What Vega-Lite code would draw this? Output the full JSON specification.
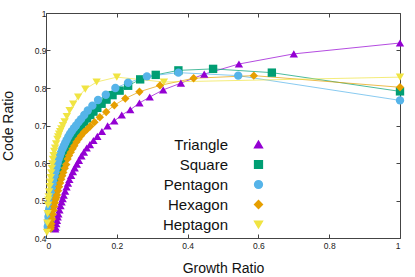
{
  "$schema": "https://vega.github.io/schema/vega-lite/v6.json",
  "width": 354,
  "height": 225,
  "autosize": {"type": "none"},
  "padding": {"left": 46, "top": 13, "right": 15, "bottom": 39},
  "config": {
    "view": {"stroke": null},
    "font": "Liberation Sans",
    "axis": {
      "grid": false,
      "domainColor": "#444",
      "tickColor": "#444",
      "tickSize": -4,
      "labelFontSize": 8.5,
      "labelColor": "#222",
      "titleFontSize": 14,
      "titleFontWeight": "normal",
      "titleColor": "#111",
      "zindex": 1
    },
    "legend": {
      "orient": "none", "legendX": 205, "legendY": 124, "title": null,
      "labelFontSize": 15, "labelColor": "#111", "labelAlign": "right", "labelOffset": -38,
      "symbolSize": 60, "symbolOpacity": 1, "rowPadding": 4, "padding": 0
    }
  },
  "data": {
    "values": [
      {"polygon": "Triangle", "growth": 1, "code": 0.92},
      {"polygon": "Triangle", "growth": 0.7, "code": 0.891},
      {"polygon": "Triangle", "growth": 0.545, "code": 0.864},
      {"polygon": "Triangle", "growth": 0.447, "code": 0.837},
      {"polygon": "Triangle", "growth": 0.381, "code": 0.813},
      {"polygon": "Triangle", "growth": 0.331, "code": 0.795},
      {"polygon": "Triangle", "growth": 0.293, "code": 0.776},
      {"polygon": "Triangle", "growth": 0.264, "code": 0.76},
      {"polygon": "Triangle", "growth": 0.238, "code": 0.742},
      {"polygon": "Triangle", "growth": 0.214, "code": 0.728},
      {"polygon": "Triangle", "growth": 0.193, "code": 0.712},
      {"polygon": "Triangle", "growth": 0.174, "code": 0.699},
      {"polygon": "Triangle", "growth": 0.158, "code": 0.684},
      {"polygon": "Triangle", "growth": 0.145, "code": 0.671},
      {"polygon": "Triangle", "growth": 0.134, "code": 0.66},
      {"polygon": "Triangle", "growth": 0.124, "code": 0.649},
      {"polygon": "Triangle", "growth": 0.115, "code": 0.64},
      {"polygon": "Triangle", "growth": 0.107, "code": 0.629},
      {"polygon": "Triangle", "growth": 0.1, "code": 0.619},
      {"polygon": "Triangle", "growth": 0.093, "code": 0.607},
      {"polygon": "Triangle", "growth": 0.087, "code": 0.597},
      {"polygon": "Triangle", "growth": 0.081, "code": 0.587},
      {"polygon": "Triangle", "growth": 0.076, "code": 0.577},
      {"polygon": "Triangle", "growth": 0.071, "code": 0.567},
      {"polygon": "Triangle", "growth": 0.066, "code": 0.556},
      {"polygon": "Triangle", "growth": 0.062, "code": 0.546},
      {"polygon": "Triangle", "growth": 0.058, "code": 0.536},
      {"polygon": "Triangle", "growth": 0.054, "code": 0.525},
      {"polygon": "Triangle", "growth": 0.05, "code": 0.514},
      {"polygon": "Triangle", "growth": 0.047, "code": 0.505},
      {"polygon": "Triangle", "growth": 0.044, "code": 0.496},
      {"polygon": "Triangle", "growth": 0.041, "code": 0.486},
      {"polygon": "Triangle", "growth": 0.038, "code": 0.475},
      {"polygon": "Triangle", "growth": 0.035, "code": 0.464},
      {"polygon": "Triangle", "growth": 0.033, "code": 0.456},
      {"polygon": "Triangle", "growth": 0.031, "code": 0.447},
      {"polygon": "Triangle", "growth": 0.029, "code": 0.438},
      {"polygon": "Triangle", "growth": 0.027, "code": 0.429},
      {"polygon": "Triangle", "growth": 0.026, "code": 0.424},

      {"polygon": "Square", "growth": 1, "code": 0.791},
      {"polygon": "Square", "growth": 0.638, "code": 0.841},
      {"polygon": "Square", "growth": 0.472, "code": 0.851},
      {"polygon": "Square", "growth": 0.374, "code": 0.847},
      {"polygon": "Square", "growth": 0.31, "code": 0.835},
      {"polygon": "Square", "growth": 0.266, "code": 0.823},
      {"polygon": "Square", "growth": 0.232, "code": 0.806},
      {"polygon": "Square", "growth": 0.208, "code": 0.793},
      {"polygon": "Square", "growth": 0.188, "code": 0.781},
      {"polygon": "Square", "growth": 0.171, "code": 0.769},
      {"polygon": "Square", "growth": 0.157, "code": 0.758},
      {"polygon": "Square", "growth": 0.145, "code": 0.747},
      {"polygon": "Square", "growth": 0.134, "code": 0.737},
      {"polygon": "Square", "growth": 0.125, "code": 0.728},
      {"polygon": "Square", "growth": 0.116, "code": 0.719},
      {"polygon": "Square", "growth": 0.108, "code": 0.71},
      {"polygon": "Square", "growth": 0.1, "code": 0.701},
      {"polygon": "Square", "growth": 0.093, "code": 0.693},
      {"polygon": "Square", "growth": 0.086, "code": 0.685},
      {"polygon": "Square", "growth": 0.08, "code": 0.677},
      {"polygon": "Square", "growth": 0.074, "code": 0.668},
      {"polygon": "Square", "growth": 0.068, "code": 0.658},
      {"polygon": "Square", "growth": 0.063, "code": 0.65},
      {"polygon": "Square", "growth": 0.058, "code": 0.639},
      {"polygon": "Square", "growth": 0.053, "code": 0.628},
      {"polygon": "Square", "growth": 0.049, "code": 0.618},
      {"polygon": "Square", "growth": 0.045, "code": 0.607},
      {"polygon": "Square", "growth": 0.041, "code": 0.596},
      {"polygon": "Square", "growth": 0.037, "code": 0.583},
      {"polygon": "Square", "growth": 0.034, "code": 0.573},
      {"polygon": "Square", "growth": 0.031, "code": 0.561},
      {"polygon": "Square", "growth": 0.028, "code": 0.548},
      {"polygon": "Square", "growth": 0.025, "code": 0.535},
      {"polygon": "Square", "growth": 0.022, "code": 0.521},
      {"polygon": "Square", "growth": 0.019, "code": 0.506},
      {"polygon": "Square", "growth": 0.017, "code": 0.494},
      {"polygon": "Square", "growth": 0.015, "code": 0.481},
      {"polygon": "Square", "growth": 0.013, "code": 0.468},
      {"polygon": "Square", "growth": 0.011, "code": 0.453},
      {"polygon": "Square", "growth": 0.009, "code": 0.437},
      {"polygon": "Square", "growth": 0.008, "code": 0.428},

      {"polygon": "Pentagon", "growth": 1, "code": 0.767},
      {"polygon": "Pentagon", "growth": 0.543, "code": 0.833},
      {"polygon": "Pentagon", "growth": 0.374, "code": 0.841},
      {"polygon": "Pentagon", "growth": 0.285, "code": 0.831},
      {"polygon": "Pentagon", "growth": 0.232, "code": 0.814},
      {"polygon": "Pentagon", "growth": 0.196, "code": 0.8},
      {"polygon": "Pentagon", "growth": 0.169, "code": 0.782},
      {"polygon": "Pentagon", "growth": 0.147, "code": 0.768},
      {"polygon": "Pentagon", "growth": 0.131, "code": 0.753},
      {"polygon": "Pentagon", "growth": 0.118, "code": 0.74},
      {"polygon": "Pentagon", "growth": 0.108, "code": 0.728},
      {"polygon": "Pentagon", "growth": 0.099, "code": 0.717},
      {"polygon": "Pentagon", "growth": 0.092, "code": 0.709},
      {"polygon": "Pentagon", "growth": 0.085, "code": 0.7},
      {"polygon": "Pentagon", "growth": 0.079, "code": 0.693},
      {"polygon": "Pentagon", "growth": 0.073, "code": 0.685},
      {"polygon": "Pentagon", "growth": 0.068, "code": 0.678},
      {"polygon": "Pentagon", "growth": 0.063, "code": 0.67},
      {"polygon": "Pentagon", "growth": 0.058, "code": 0.661},
      {"polygon": "Pentagon", "growth": 0.054, "code": 0.653},
      {"polygon": "Pentagon", "growth": 0.05, "code": 0.645},
      {"polygon": "Pentagon", "growth": 0.046, "code": 0.637},
      {"polygon": "Pentagon", "growth": 0.042, "code": 0.627},
      {"polygon": "Pentagon", "growth": 0.039, "code": 0.619},
      {"polygon": "Pentagon", "growth": 0.036, "code": 0.611},
      {"polygon": "Pentagon", "growth": 0.033, "code": 0.601},
      {"polygon": "Pentagon", "growth": 0.03, "code": 0.589},
      {"polygon": "Pentagon", "growth": 0.027, "code": 0.577},
      {"polygon": "Pentagon", "growth": 0.024, "code": 0.565},
      {"polygon": "Pentagon", "growth": 0.021, "code": 0.551},
      {"polygon": "Pentagon", "growth": 0.019, "code": 0.541},
      {"polygon": "Pentagon", "growth": 0.017, "code": 0.53},
      {"polygon": "Pentagon", "growth": 0.015, "code": 0.518},
      {"polygon": "Pentagon", "growth": 0.013, "code": 0.506},
      {"polygon": "Pentagon", "growth": 0.011, "code": 0.493},
      {"polygon": "Pentagon", "growth": 0.009, "code": 0.477},
      {"polygon": "Pentagon", "growth": 0.008, "code": 0.468},
      {"polygon": "Pentagon", "growth": 0.007, "code": 0.457},
      {"polygon": "Pentagon", "growth": 0.006, "code": 0.445},
      {"polygon": "Pentagon", "growth": 0.005, "code": 0.43},

      {"polygon": "Hexagon", "growth": 1, "code": 0.802},
      {"polygon": "Hexagon", "growth": 0.587, "code": 0.833},
      {"polygon": "Hexagon", "growth": 0.417, "code": 0.826},
      {"polygon": "Hexagon", "growth": 0.322, "code": 0.807},
      {"polygon": "Hexagon", "growth": 0.264, "code": 0.79},
      {"polygon": "Hexagon", "growth": 0.224, "code": 0.772},
      {"polygon": "Hexagon", "growth": 0.193, "code": 0.754},
      {"polygon": "Hexagon", "growth": 0.17, "code": 0.736},
      {"polygon": "Hexagon", "growth": 0.152, "code": 0.722},
      {"polygon": "Hexagon", "growth": 0.137, "code": 0.709},
      {"polygon": "Hexagon", "growth": 0.125, "code": 0.698},
      {"polygon": "Hexagon", "growth": 0.115, "code": 0.689},
      {"polygon": "Hexagon", "growth": 0.107, "code": 0.682},
      {"polygon": "Hexagon", "growth": 0.099, "code": 0.673},
      {"polygon": "Hexagon", "growth": 0.092, "code": 0.664},
      {"polygon": "Hexagon", "growth": 0.086, "code": 0.656},
      {"polygon": "Hexagon", "growth": 0.08, "code": 0.646},
      {"polygon": "Hexagon", "growth": 0.075, "code": 0.638},
      {"polygon": "Hexagon", "growth": 0.07, "code": 0.629},
      {"polygon": "Hexagon", "growth": 0.065, "code": 0.62},
      {"polygon": "Hexagon", "growth": 0.061, "code": 0.611},
      {"polygon": "Hexagon", "growth": 0.057, "code": 0.596},
      {"polygon": "Hexagon", "growth": 0.053, "code": 0.586},
      {"polygon": "Hexagon", "growth": 0.049, "code": 0.575},
      {"polygon": "Hexagon", "growth": 0.046, "code": 0.566},
      {"polygon": "Hexagon", "growth": 0.043, "code": 0.557},
      {"polygon": "Hexagon", "growth": 0.04, "code": 0.547},
      {"polygon": "Hexagon", "growth": 0.037, "code": 0.537},
      {"polygon": "Hexagon", "growth": 0.034, "code": 0.526},
      {"polygon": "Hexagon", "growth": 0.031, "code": 0.515},
      {"polygon": "Hexagon", "growth": 0.029, "code": 0.508},
      {"polygon": "Hexagon", "growth": 0.027, "code": 0.503},
      {"polygon": "Hexagon", "growth": 0.025, "code": 0.494},
      {"polygon": "Hexagon", "growth": 0.023, "code": 0.484},
      {"polygon": "Hexagon", "growth": 0.021, "code": 0.474},
      {"polygon": "Hexagon", "growth": 0.019, "code": 0.463},
      {"polygon": "Hexagon", "growth": 0.017, "code": 0.451},
      {"polygon": "Hexagon", "growth": 0.015, "code": 0.438},
      {"polygon": "Hexagon", "growth": 0.014, "code": 0.431},
      {"polygon": "Hexagon", "growth": 0.013, "code": 0.425},

      {"polygon": "Heptagon", "growth": 1, "code": 0.829},
      {"polygon": "Heptagon", "growth": 0.333, "code": 0.816},
      {"polygon": "Heptagon", "growth": 0.2, "code": 0.829},
      {"polygon": "Heptagon", "growth": 0.143, "code": 0.816},
      {"polygon": "Heptagon", "growth": 0.111, "code": 0.797},
      {"polygon": "Heptagon", "growth": 0.0909, "code": 0.776},
      {"polygon": "Heptagon", "growth": 0.0769, "code": 0.757},
      {"polygon": "Heptagon", "growth": 0.0667, "code": 0.74},
      {"polygon": "Heptagon", "growth": 0.0588, "code": 0.724},
      {"polygon": "Heptagon", "growth": 0.0526, "code": 0.71},
      {"polygon": "Heptagon", "growth": 0.0476, "code": 0.7},
      {"polygon": "Heptagon", "growth": 0.0435, "code": 0.691},
      {"polygon": "Heptagon", "growth": 0.04, "code": 0.684},
      {"polygon": "Heptagon", "growth": 0.037, "code": 0.677},
      {"polygon": "Heptagon", "growth": 0.0345, "code": 0.67},
      {"polygon": "Heptagon", "growth": 0.0323, "code": 0.663},
      {"polygon": "Heptagon", "growth": 0.0286, "code": 0.651},
      {"polygon": "Heptagon", "growth": 0.0256, "code": 0.64},
      {"polygon": "Heptagon", "growth": 0.0233, "code": 0.631},
      {"polygon": "Heptagon", "growth": 0.0213, "code": 0.62},
      {"polygon": "Heptagon", "growth": 0.0196, "code": 0.61},
      {"polygon": "Heptagon", "growth": 0.018, "code": 0.598},
      {"polygon": "Heptagon", "growth": 0.0164, "code": 0.586},
      {"polygon": "Heptagon", "growth": 0.0149, "code": 0.574},
      {"polygon": "Heptagon", "growth": 0.0133, "code": 0.561},
      {"polygon": "Heptagon", "growth": 0.0118, "code": 0.549},
      {"polygon": "Heptagon", "growth": 0.0105, "code": 0.537},
      {"polygon": "Heptagon", "growth": 0.009, "code": 0.523},
      {"polygon": "Heptagon", "growth": 0.0076, "code": 0.51},
      {"polygon": "Heptagon", "growth": 0.0066, "code": 0.501},
      {"polygon": "Heptagon", "growth": 0.0055, "code": 0.488},
      {"polygon": "Heptagon", "growth": 0.0045, "code": 0.465},
      {"polygon": "Heptagon", "growth": 0.0036, "code": 0.44},
      {"polygon": "Heptagon", "growth": 0.0028, "code": 0.415}
    ]
  },
  "layer": [
    {
      "mark": {"type": "line", "strokeWidth": 1, "opacity": 0.7},
      "encoding": {
        "x": {
          "field": "growth", "type": "quantitative",
          "scale": {"domain": [0, 1], "nice": false},
          "axis": {"orient": "bottom", "title": "Growth Ratio", "values": [0, 0.2, 0.4, 0.6, 0.8, 1], "format": "~g", "labelPadding": 7, "titlePadding": 12}
        },
        "y": {
          "field": "code", "type": "quantitative",
          "scale": {"domain": [0.4, 1], "nice": false, "zero": false},
          "axis": {"orient": "left", "title": "Code Ratio", "values": [0.4, 0.5, 0.6, 0.7, 0.8, 0.9, 1], "format": "~g", "labelPadding": 4, "titlePadding": 19}
        },
        "color": {
          "field": "polygon", "type": "nominal",
          "scale": {"domain": ["Triangle", "Square", "Pentagon", "Hexagon", "Heptagon"], "range": ["#9400d3", "#009e73", "#56b4e9", "#e69f00", "#f0e442"]}
        }
      }
    },
    {
      "mark": {"type": "point", "filled": true, "size": 70, "opacity": 1},
      "encoding": {
        "x": {
          "field": "growth", "type": "quantitative",
          "axis": {"orient": "top", "title": null, "labels": false, "values": [0, 0.2, 0.4, 0.6, 0.8, 1]}
        },
        "y": {
          "field": "code", "type": "quantitative",
          "axis": {"orient": "right", "title": null, "labels": false, "values": [0.4, 0.5, 0.6, 0.7, 0.8, 0.9, 1]}
        },
        "color": {
          "field": "polygon", "type": "nominal"
        },
        "shape": {
          "field": "polygon", "type": "nominal",
          "scale": {"domain": ["Triangle", "Square", "Pentagon", "Hexagon", "Heptagon"], "range": ["triangle-up", "square", "circle", "diamond", "triangle-down"]}
        }
      }
    }
  ],
  "resolve": {"axis": {"x": "independent", "y": "independent"}}
}
